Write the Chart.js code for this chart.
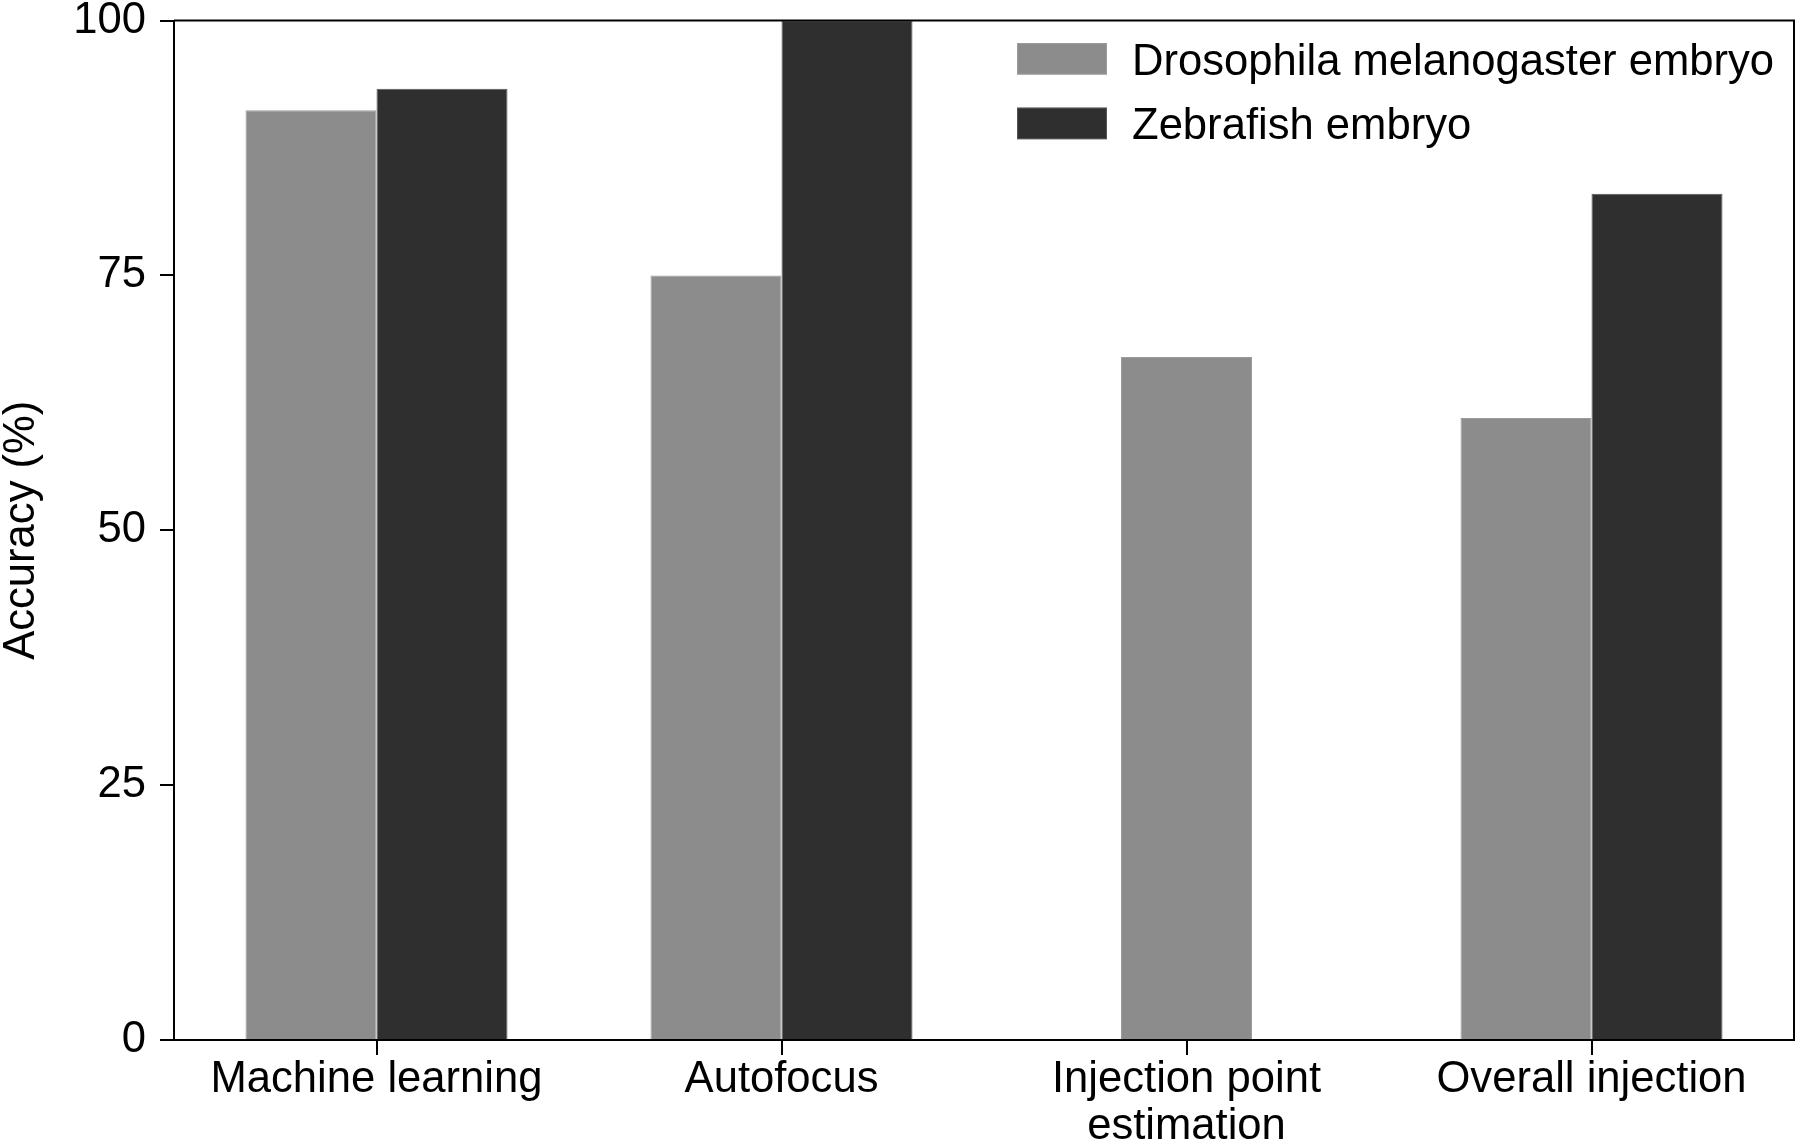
<!DOCTYPE html>
<html>
<head>
<meta charset="utf-8">
<title>Accuracy</title>
<script src="https://cdn.jsdelivr.net/npm/chart.js@4.4.1/dist/chart.umd.min.js"></script>
<style>
  html, body { margin: 0; padding: 0; background: #fff; }
  #contenedor { width: 1800px; height: 1147px; }
</style>
</head>
<body>
<div id="contenedor"><canvas id="grafico"></canvas></div>
<script>
// datos
const categorias = ['Machine learning', 'Autofocus', ['Injection point', 'estimation'], 'Overall injection'];
const drosophila = [91.2, 75, 67, 61];
const zebrafish = [93.3, 100, null, 83];
const nombres = ['Drosophila melanogaster embryo', 'Zebrafish embryo'];
const ticksY = [0, 25, 50, 75, 100];

const fuente = "'Liberation Sans', Arial, sans-serif";
const tamano = 43.6;
Chart.defaults.font.family = fuente;
Chart.defaults.color = '#000';

// marco superior/derecho y leyenda dentro del area
const marcoYLeyenda = {
    id: 'marcoYLeyenda',
    afterDatasetsDraw(chart) {
        const ctx = chart.ctx;
        const a = chart.chartArea;
        ctx.save();
        ctx.strokeStyle = '#000';
        ctx.lineWidth = 2;
        ctx.beginPath();
        ctx.moveTo(a.left, a.top);
        ctx.lineTo(a.right, a.top);
        ctx.lineTo(a.right, a.bottom);
        ctx.stroke();

        let x = a.left + 843;
        chart.data.datasets.forEach((ds, i) => {
            let y = 43 + i * 64.7;
            ctx.fillStyle = ds.backgroundColor;
            ctx.fillRect(x, y, 90, 31.5);
            ctx.strokeStyle = ds.borderColor;
            ctx.lineWidth = 1;
            ctx.strokeRect(x + 0.5, y + 0.5, 89, 30.5);
            ctx.fillStyle = '#000';
            ctx.font = tamano + 'px ' + fuente;
            ctx.textBaseline = 'alphabetic';
            ctx.textAlign = 'left';
            ctx.fillText(ds.label, x + 115, y + 31.5);
        });
        ctx.restore();
    }
};

let ctx = document.getElementById('grafico').getContext('2d');
let grafico = new Chart(ctx, {
    type: 'bar',
    data: {
        labels: categorias,
        datasets: [{
            label: nombres[0],
            data: drosophila,
            backgroundColor: '#8c8c8c',
            borderColor: '#9c9c9c',
            borderWidth: 1
        }, {
            label: nombres[1],
            data: zebrafish,
            backgroundColor: '#2f2f2f',
            borderColor: '#555555',
            borderWidth: 1
        }]
    },
    options: {
        responsive: true,
        maintainAspectRatio: false,
        animation: false,
        devicePixelRatio: 1,
        skipNull: true,
        categoryPercentage: 0.647,
        barPercentage: 1,
        maxBarThickness: 131,
        layout: { padding: { top: 20.5, right: 6, left: 0, bottom: 0 } },
        plugins: {
            legend: { display: false },
            tooltip: { enabled: false }
        },
        scales: {
            x: {
                grid: { offset: false, drawOnChartArea: false, drawTicks: true, tickLength: 15, color: '#000', lineWidth: 2 },
                border: { display: true, color: '#000', width: 2 },
                ticks: { font: { size: tamano, lineHeight: 1.08 }, padding: 1, maxRotation: 0, autoSkip: false },
                afterFit: (axis) => { axis.height = 107; }
            },
            y: {
                min: 0,
                max: 100,
                afterBuildTicks: (axis) => { axis.ticks = ticksY.map(v => ({ value: v })); },
                grid: { drawOnChartArea: false, drawTicks: true, tickLength: 14, color: '#000', lineWidth: 2 },
                border: { display: true, color: '#000', width: 2 },
                ticks: { font: { size: tamano, lineHeight: 0.86 }, padding: 14 },
                title: { display: true, text: 'Accuracy (%)', font: { size: tamano, lineHeight: 1 }, padding: 0 },
                afterFit: (axis) => {
                    axis.width = 174;
                    axis.paddingTop = 0;
                    axis.paddingBottom = 0;
                }
            }
        }
    },
    plugins: [marcoYLeyenda]
});
</script>
</body>
</html>
